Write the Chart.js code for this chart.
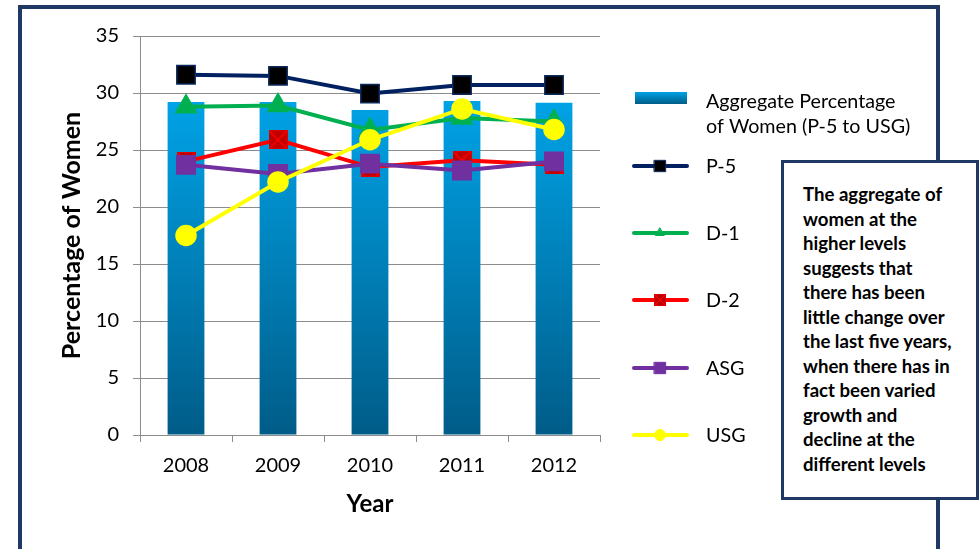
<!DOCTYPE html>
<html>
<head>
<meta charset="utf-8">
<script src="https://cdn.jsdelivr.net/npm/chart.js@4.4.1/dist/chart.umd.min.js"></script>
<style>
  html, body { margin: 0; padding: 0; background: #fff; }
  #wrap { position: relative; width: 979px; height: 549px; overflow: hidden; }
  #frame { position: absolute; left: 18px; top: 5px; width: 922px; height: 700px; box-sizing: border-box; border: 4px solid #1F3864; }
  #chart { position: absolute; left: 0; top: 0; }
  #note {
    position: absolute; left: 781px; top: 160px; width: 198px; height: 340px;
    box-sizing: border-box; border: 3px solid #1F3864; background: #fff;
    padding: 19px 0 0 19px; white-space: nowrap;
    font: bold 18.6px Lato, sans-serif; line-height: 24.5px; color: #000;
  }
</style>
</head>
<body>
<div id="wrap">
  <div id="frame"></div>
  <canvas id="chart" width="979" height="549"></canvas>
  <div id="note">The aggregate of<br>women at the<br>higher levels<br>suggests that<br>there has been<br>little change over<br>the last five years,<br>when there has in<br>fact been varied<br>growth and<br>decline at the<br>different levels</div>
</div>
<script>
// values
const years = ['2008', '2009', '2010', '2011', '2012'];
const aggregate = [29.2, 29.2, 28.5, 29.3, 29.15];
const p5 = [31.6, 31.5, 29.95, 30.7, 30.7];
const d1 = [28.8, 28.9, 26.75, 27.8, 27.5];
const d2 = [24.0, 25.9, 23.5, 24.1, 23.7];
const asg = [23.7, 22.9, 23.8, 23.2, 24.0];
const usg = [17.5, 22.2, 25.9, 28.6, 26.8];

const FONT = 'Lato, sans-serif';
const GRID = '#8c8c8c';
const Y_TITLE = 'Percentage of Women';

// dark red square with a red cross, used for D-2
function crossSquare(size) {
    const c = document.createElement('canvas');
    c.width = size; c.height = size;
    const g = c.getContext('2d');
    g.fillStyle = '#C00000';
    g.fillRect(0, 0, size, size);
    g.strokeStyle = '#FF0000';
    g.lineWidth = Math.max(1, size / 12);
    g.beginPath();
    g.moveTo(1, 1); g.lineTo(size - 1, size - 1);
    g.moveTo(size - 1, 1); g.lineTo(1, size - 1);
    g.stroke();
    g.strokeStyle = '#E00000';
    g.lineWidth = 1;
    g.strokeRect(0.5, 0.5, size - 1, size - 1);
    return c;
}

function barGradient(context) {
    const chart = context.chart;
    const y = chart.scales.y;
    if (!chart.chartArea || !y) return '#0090D0';
    const g = chart.ctx.createLinearGradient(0, y.getPixelForValue(0), 0, y.getPixelForValue(29));
    g.addColorStop(0, '#005C88');
    g.addColorStop(1, '#00A2E6');
    return g;
}

// legend drawn to the right of the plot, Excel style
const sideLegend = {
    id: 'sideLegend',
    afterDraw(chart) {
        const ctx = chart.ctx;
        const x0 = 634, x1 = 687, tx = 706;
        ctx.save();
        ctx.font = '19.7px ' + FONT;
        ctx.textBaseline = 'middle';
        chart.data.datasets.forEach(ds => {
            const y = ds.legendY;
            if (ds.type === 'bar') {
                const g = ctx.createLinearGradient(0, y - 6, 0, y + 6);
                g.addColorStop(0, '#00A2E6');
                g.addColorStop(1, '#005C88');
                ctx.fillStyle = g;
                ctx.fillRect(x0 + 1, y - 6, x1 - x0 - 1, 12);
                ctx.fillStyle = '#000';
                ds.legendLines.forEach((t, i) => ctx.fillText(t, tx, y + 4 + i * 25));
                return;
            }
            ctx.strokeStyle = ds.borderColor;
            ctx.lineWidth = 4;
            ctx.lineCap = 'round';
            ctx.beginPath();
            ctx.moveTo(x0, y); ctx.lineTo(x1, y);
            ctx.stroke();
            ctx.fillStyle = ds.pointBackgroundColor;
            ctx.strokeStyle = ds.pointBorderColor;
            ctx.lineWidth = 1;
            Chart.helpers.drawPoint(ctx, { pointStyle: ds.legendStyle, radius: ds.legendRadius, borderWidth: 1 }, 660, y);
            ctx.fillStyle = '#000';
            ctx.fillText(ds.label, tx, y + 1);
        });

        // y axis title, centred on the plot area
        const area = chart.chartArea;
        ctx.translate(72, (area.top + area.bottom) / 2);
        ctx.rotate(-Math.PI / 2);
        ctx.textAlign = 'center';
        ctx.font = 'bold 25px ' + FONT;
        ctx.fillText(Y_TITLE, 0, 0);
        ctx.restore();
    }
};

function lineSet(label, data, color, marker, fill, border, radius, order, legendY, legendRadius) {
    return {
        type: 'line', label, data, order,
        borderColor: color, borderWidth: 4,
        pointStyle: marker, pointRadius: radius, pointHoverRadius: radius,
        pointBackgroundColor: fill, pointBorderColor: border, pointBorderWidth: 1.5,
        tension: 0, legendY, legendStyle: typeof marker === 'string' ? marker : crossSquare(12),
        legendRadius
    };
}

new Chart(document.getElementById('chart'), {
    type: 'bar',
    data: {
        labels: years,
        datasets: [
            {
                type: 'bar', label: 'Aggregate Percentage of Women (P-5 to USG)',
                legendLines: ['Aggregate Percentage', 'of Women (P-5 to USG)'],
                data: aggregate, order: 10, backgroundColor: barGradient,
                barPercentage: 0.4, categoryPercentage: 1, legendY: 98
            },
            lineSet('P-5', p5, '#002060', 'rect', '#000000', '#0A2A5E', 13, 5, 166, 8),
            lineSet('D-1', d1, '#00B050', 'triangle', '#00B050', '#00B050', 12, 4, 233, 5),
            lineSet('D-2', d2, '#FF0000', crossSquare(19), '#C00000', '#C00000', 10, 3, 300, 6),
            lineSet('ASG', asg, '#7030A0', 'rect', '#7030A0', '#7030A0', 13, 2, 368, 8),
            lineSet('USG', usg, '#FFFF00', 'circle', '#FFFF00', '#FFFF00', 10, 1, 435, 5.5)
        ]
    },
    options: {
        responsive: false,
        animation: false,
        layout: { padding: { left: 40, right: 379, top: 36, bottom: 0 } },
        plugins: { legend: { display: false }, tooltip: { enabled: false } },
        scales: {
            x: {
                afterFit: s => { s.height = 114; },
                grid: { drawOnChartArea: false, color: GRID, tickLength: 7, offset: true },
                border: { color: GRID },
                ticks: { color: '#000', padding: 12, font: { family: FONT, size: 20 } },
                title: {
                    display: true, text: 'Year', color: '#000',
                    font: { family: FONT, size: 24, weight: 'bold' },
                    padding: { top: 0, bottom: 30 }
                }
            },
            y: {
                min: 0, max: 35,
                afterFit: s => { s.width = 100; },
                grid: { color: GRID, tickLength: 7 },
                border: { color: GRID },
                ticks: { stepSize: 5, color: '#000', padding: 14, font: { family: FONT, size: 20 } }
            }
        }
    },
    plugins: [sideLegend]
});
</script>
</body>
</html>
